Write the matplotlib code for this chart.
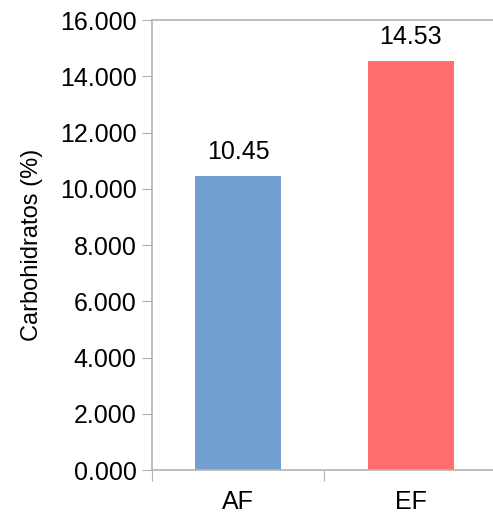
import matplotlib
matplotlib.use("Agg")
import matplotlib.pyplot as plt

categories = ["AF", "EF"]
values = [10.45, 14.53]
colors = ["#729fcf", "#ff6d6d"]
yticks = [0, 2, 4, 6, 8, 10, 12, 14, 16]

plt.rcParams["font.family"] = ["Liberation Sans", "DejaVu Sans"]

fig = plt.figure(figsize=(4.93, 5.15), dpi=100)
ax = fig.add_axes([0.308, 0.087, 0.70, 0.874])

x = range(len(categories))
bars = ax.bar(x, values, width=0.5, color=colors, zorder=2)
for b, v in zip(bars, values):
    ax.text(b.get_x() + b.get_width() / 2, v + 0.45, f"{v:.2f}",
            ha="center", va="bottom", fontsize=18)

ax.set_xlim(-0.5, 1.5)
ax.set_ylim(0, 16)
ax.set_yticks(yticks)
ax.set_yticklabels([f"{t:.3f}" for t in yticks], fontsize=18)

# category labels between boundary ticks
ax.set_xticks([-0.5, 0.5, 1.5])
ax.set_xticklabels([])
ax.set_xticks(list(x), minor=True)
ax.set_xticklabels(categories, minor=True, fontsize=18)
ax.tick_params(axis="x", which="minor", length=0, pad=14)
ax.tick_params(axis="x", which="major", length=8, color="#b3b3b3")
ax.tick_params(axis="y", length=7, color="#b3b3b3", pad=4)

ax.set_ylabel("Carbohidratos (%)", fontsize=17, labelpad=12)

for s in ["left", "bottom", "top"]:
    ax.spines[s].set_color("#b3b3b3")
    ax.spines[s].set_linewidth(1.2)
ax.spines["right"].set_visible(False)

fig.savefig("out.png", dpi=100)
